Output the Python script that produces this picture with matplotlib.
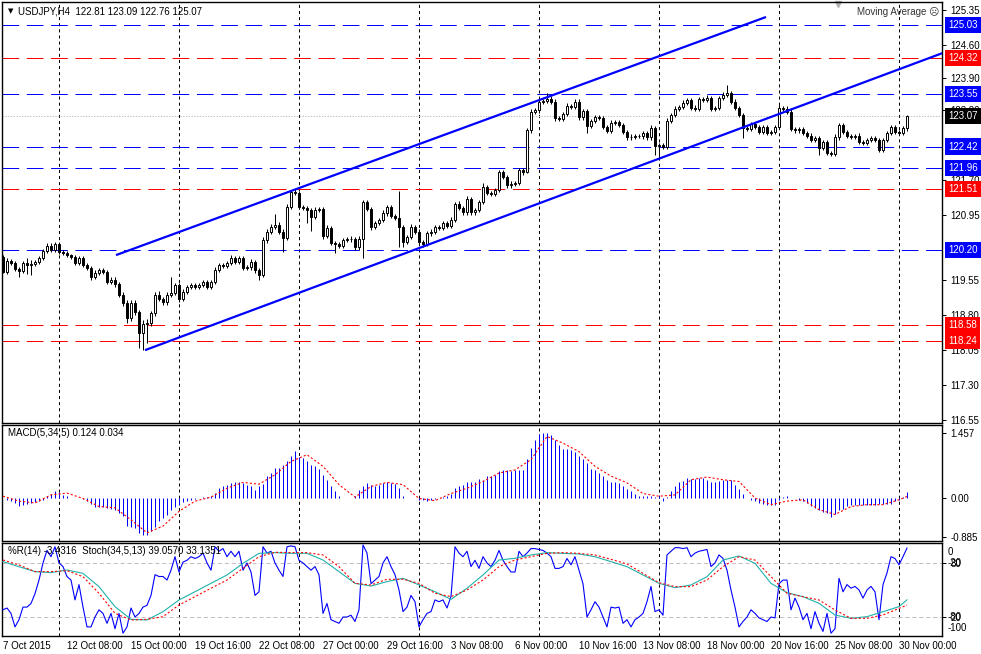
import numpy as np
import matplotlib
matplotlib.use('Agg')
import matplotlib.pyplot as plt
import matplotlib.transforms as mtransforms

plt.rcParams['font.family'] = ['Liberation Sans', 'DejaVu Sans']
plt.rcParams['font.size'] = 7
plt.rcParams['lines.scale_dashes'] = False
FS = 7

# USDJPY H4 candles, 7 Oct 16:00 .. 30 Nov 08:00 (open of a bar = previous close)
first_open = 120.05
closes = [
    119.73, 119.96, 119.92, 119.79, 119.75, 119.92, 119.88, 119.90, 119.94, 120.03,
    120.18, 120.29, 120.20, 120.33, 120.16, 120.14, 120.09, 120.05, 119.92, 120.03,
    119.88, 119.81, 119.62, 119.71, 119.77, 119.73, 119.51, 119.56, 119.47, 119.24,
    119.06, 118.74, 119.06, 118.87, 118.42, 118.61, 118.63, 118.85, 119.24, 119.15,
    119.08, 119.24, 119.28, 119.45, 119.15, 119.30, 119.41, 119.45, 119.41, 119.45,
    119.51, 119.41, 119.51, 119.77, 119.88, 119.86, 119.92, 120.03, 119.94, 120.03,
    119.81, 119.83, 119.94, 119.77, 119.66, 120.41, 120.59, 120.69, 120.74, 120.59,
    120.46, 121.12, 121.44, 121.42, 121.12, 121.10, 121.06, 120.91, 121.06, 121.08,
    120.50, 120.67, 120.35, 120.33, 120.29, 120.41, 120.44, 120.43, 120.26, 120.44,
    121.23, 121.08, 120.69, 120.78, 120.84, 120.99, 121.12, 120.93, 120.89, 120.69,
    120.37, 120.48, 120.69, 120.59, 120.37, 120.33, 120.56, 120.59, 120.69, 120.67,
    120.78, 120.72, 120.84, 121.19, 121.10, 121.01, 121.29, 121.01, 121.06, 121.23,
    121.55, 121.42, 121.40, 121.49, 121.87, 121.77, 121.59, 121.62, 121.64, 121.92,
    121.87, 122.77, 123.16, 123.20, 123.38, 123.40, 123.44, 123.38, 123.03, 123.01,
    123.12, 123.29, 123.27, 123.38, 123.05, 123.18, 122.86, 122.97, 123.05, 123.03,
    122.84, 122.75, 122.93, 122.95, 122.88, 122.73, 122.62, 122.63, 122.65, 122.64,
    122.71, 122.62, 122.82, 122.43, 122.45, 122.41, 122.97, 123.10, 123.23, 123.27,
    123.36, 123.42, 123.25, 123.23, 123.44, 123.42, 123.46, 123.23, 123.25, 123.46,
    123.53, 123.57, 123.38, 123.25, 123.10, 122.82, 122.80, 122.90, 122.84, 122.73,
    122.84, 122.71, 122.73, 122.84, 123.25, 123.23, 123.16, 122.80, 122.77, 122.80,
    122.71, 122.65, 122.56, 122.60, 122.39, 122.52, 122.28, 122.26, 122.62, 122.88,
    122.73, 122.65, 122.62, 122.65, 122.52, 122.50, 122.56, 122.60, 122.56, 122.35,
    122.56, 122.71, 122.84, 122.73, 122.71, 122.81, 123.07,
]
# wick lengths above / below the body
wick_up = [
    0.05, 0.06, 0.04, 0.05, 0.04, 0.05, 0.10, 0.08, 0.05, 0.04,
    0.04, 0.05, 0.05, 0.04, 0.04, 0.03, 0.04, 0.03, 0.05, 0.04,
    0.05, 0.04, 0.04, 0.05, 0.04, 0.05, 0.04, 0.05, 0.06, 0.04,
    0.05, 0.06, 0.07, 0.06, 0.05, 0.08, 0.08, 0.05, 0.06, 0.07,
    0.05, 0.06, 0.34, 0.05, 0.05, 0.06, 0.04, 0.05, 0.04, 0.05,
    0.05, 0.04, 0.05, 0.06, 0.05, 0.04, 0.05, 0.06, 0.05, 0.04,
    0.05, 0.05, 0.06, 0.04, 0.05, 0.06, 0.05, 0.06, 0.23, 0.05,
    0.05, 0.06, 0.05, 0.06, 0.05, 0.04, 0.05, 0.05, 0.06, 0.05,
    0.05, 0.06, 0.05, 0.05, 0.05, 0.05, 0.04, 0.05, 0.05, 0.05,
    0.05, 0.05, 0.05, 0.05, 0.05, 0.06, 0.05, 0.05, 0.05, 0.58,
    0.05, 0.05, 0.06, 0.05, 0.05, 0.05, 0.05, 0.06, 0.05, 0.05,
    0.05, 0.05, 0.06, 0.05, 0.06, 0.05, 0.06, 0.05, 0.05, 0.05,
    0.08, 0.05, 0.05, 0.05, 0.05, 0.05, 0.05, 0.06, 0.05, 0.05,
    0.05, 0.05, 0.06, 0.05, 0.05, 0.05, 0.13, 0.06, 0.05, 0.05,
    0.05, 0.06, 0.05, 0.06, 0.05, 0.05, 0.05, 0.05, 0.05, 0.05,
    0.05, 0.05, 0.06, 0.05, 0.05, 0.05, 0.05, 0.05, 0.04, 0.04,
    0.05, 0.05, 0.06, 0.05, 0.05, 0.05, 0.06, 0.05, 0.06, 0.05,
    0.05, 0.05, 0.05, 0.06, 0.05, 0.05, 0.06, 0.05, 0.05, 0.05,
    0.05, 0.17, 0.05, 0.05, 0.05, 0.05, 0.05, 0.05, 0.05, 0.05,
    0.05, 0.05, 0.05, 0.05, 0.06, 0.05, 0.05, 0.09, 0.05, 0.05,
    0.05, 0.05, 0.05, 0.05, 0.05, 0.05, 0.05, 0.05, 0.06, 0.05,
    0.05, 0.05, 0.04, 0.04, 0.05, 0.04, 0.05, 0.05, 0.05, 0.05,
    0.05, 0.05, 0.05, 0.05, 0.05, 0.05, 0.02,
]
wick_dn = [
    0.03, 0.05, 0.05, 0.05, 0.13, 0.05, 0.20, 0.22, 0.05, 0.05,
    0.05, 0.05, 0.05, 0.05, 0.05, 0.04, 0.04, 0.04, 0.05, 0.05,
    0.05, 0.05, 0.06, 0.05, 0.05, 0.05, 0.05, 0.05, 0.06, 0.05,
    0.06, 0.10, 0.06, 0.06, 0.32, 0.37, 0.40, 0.06, 0.06, 0.05,
    0.05, 0.06, 0.05, 0.05, 0.06, 0.05, 0.05, 0.05, 0.04, 0.05,
    0.05, 0.05, 0.05, 0.05, 0.05, 0.04, 0.05, 0.05, 0.05, 0.05,
    0.05, 0.05, 0.05, 0.06, 0.10, 0.05, 0.05, 0.05, 0.05, 0.05,
    0.30, 0.05, 0.05, 0.05, 0.05, 0.05, 0.28, 0.30, 0.05, 0.05,
    0.06, 0.05, 0.05, 0.19, 0.05, 0.05, 0.04, 0.05, 0.06, 0.05,
    0.41, 0.05, 0.06, 0.05, 0.05, 0.05, 0.05, 0.05, 0.05, 0.43,
    0.10, 0.05, 0.05, 0.05, 0.06, 0.06, 0.05, 0.05, 0.05, 0.05,
    0.05, 0.05, 0.05, 0.05, 0.05, 0.05, 0.05, 0.06, 0.05, 0.05,
    0.05, 0.05, 0.05, 0.05, 0.05, 0.05, 0.05, 0.05, 0.05, 0.05,
    0.05, 0.02, 0.05, 0.05, 0.05, 0.05, 0.05, 0.05, 0.06, 0.05,
    0.05, 0.05, 0.05, 0.05, 0.05, 0.05, 0.15, 0.05, 0.05, 0.05,
    0.05, 0.05, 0.05, 0.05, 0.05, 0.05, 0.05, 0.05, 0.04, 0.04,
    0.05, 0.05, 0.05, 0.20, 0.25, 0.05, 0.05, 0.05, 0.05, 0.05,
    0.05, 0.05, 0.05, 0.05, 0.05, 0.05, 0.05, 0.05, 0.05, 0.05,
    0.05, 0.05, 0.05, 0.05, 0.05, 0.22, 0.05, 0.05, 0.05, 0.05,
    0.05, 0.05, 0.05, 0.05, 0.05, 0.05, 0.05, 0.05, 0.05, 0.05,
    0.05, 0.05, 0.05, 0.05, 0.15, 0.05, 0.04, 0.05, 0.05, 0.05,
    0.05, 0.05, 0.04, 0.04, 0.05, 0.04, 0.05, 0.05, 0.05, 0.05,
    0.05, 0.05, 0.05, 0.05, 0.05, 0.05, 0.05,
]

blue_levels = [125.03, 123.55, 122.42, 121.96, 120.20]
red_levels = [124.32, 121.51, 118.58, 118.24]
bid = 123.07
# scale labels that stay readable (122.45 and 120.25 sit under the level boxes)
price_ticks = [125.35, 124.60, 123.90, 123.20, 121.70, 120.95,
               119.55, 118.80, 118.05, 117.30, 116.55]

# channel lines: (bar index, price) anchors
chan_upper = [(28.25, 120.09), (190.75, 125.20)]
chan_lower = [(35.5, 118.05), (235.0, 124.43)]

week_sep = [14, 44, 74, 104, 134, 164, 194, 224]
time_idx = [0, 16, 32, 48, 64, 80, 96, 112, 128, 144, 160, 176, 192, 208, 224]
time_lbl = ['7 Oct 2015', '12 Oct 08:00', '15 Oct 00:00', '19 Oct 16:00',
            '22 Oct 08:00', '27 Oct 00:00', '29 Oct 16:00', '3 Nov 08:00',
            '6 Nov 00:00', '10 Nov 16:00', '13 Nov 08:00', '18 Nov 00:00',
            '20 Nov 16:00', '25 Nov 08:00', '30 Nov 00:00']

# MACD(5,34,5) histogram, every bar
macd_hist = [
    0.00, -0.05, -0.07, -0.11, -0.17, -0.15, -0.13, -0.11, -0.10, -0.07,
    -0.04, 0.05, 0.10, 0.15, 0.13, 0.07, 0.04, 0.01, -0.01, -0.01,
    -0.02, -0.06, -0.13, -0.20, -0.20, -0.20, -0.22, -0.25, -0.28, -0.34,
    -0.41, -0.63, -0.65, -0.67, -0.78, -0.82, -0.82, -0.75, -0.65, -0.52,
    -0.45, -0.37, -0.28, -0.20, -0.15, -0.10, -0.07, -0.04, -0.02, -0.01,
    0.02, 0.02, 0.04, 0.11, 0.22, 0.26, 0.30, 0.34, 0.36, 0.36,
    0.34, 0.30, 0.26, 0.19, 0.26, 0.31, 0.49, 0.56, 0.67, 0.67,
    0.75, 0.82, 0.95, 1.06, 0.93, 0.90, 0.82, 0.75, 0.71, 0.65,
    0.52, 0.41, 0.26, 0.15, 0.04, 0.01, 0.01, -0.01, 0.04, 0.19,
    0.28, 0.34, 0.30, 0.26, 0.30, 0.34, 0.35, 0.34, 0.32, 0.22,
    0.04, -0.01, -0.01, 0.00, -0.04, -0.04, -0.06, -0.04, -0.02, -0.01,
    0.02, 0.04, 0.10, 0.22, 0.26, 0.30, 0.37, 0.35, 0.37, 0.43,
    0.41, 0.50, 0.49, 0.52, 0.60, 0.63, 0.63, 0.60, 0.63, 0.63,
    0.63, 0.87, 1.12, 1.31, 1.44, 1.46, 1.46, 1.42, 1.31, 1.19,
    1.10, 1.10, 1.07, 1.04, 0.95, 0.87, 0.78, 0.65, 0.62, 0.57,
    0.49, 0.40, 0.37, 0.37, 0.34, 0.28, 0.20, 0.15, 0.10, 0.05,
    0.04, 0.05, 0.04, 0.02, 0.04, -0.07, 0.02, 0.15, 0.28, 0.35,
    0.39, 0.45, 0.43, 0.43, 0.45, 0.45, 0.41, 0.37, 0.37, 0.39,
    0.41, 0.40, 0.41, 0.30, 0.20, 0.10, 0.00, -0.04, -0.07, -0.11,
    -0.13, -0.15, -0.15, -0.15, -0.04, 0.02, 0.04, 0.00, -0.01, -0.04,
    -0.07, -0.11, -0.17, -0.22, -0.26, -0.32, -0.34, -0.43, -0.35, -0.28,
    -0.25, -0.19, -0.15, -0.15, -0.15, -0.15, -0.15, -0.15, -0.15, -0.14,
    -0.14, -0.13, -0.13, -0.07, -0.04, 0.02, 0.124,
]
# smooth lines read every 4th bar
smooth_idx = list(range(0, 225, 4)) + [226]
macd_signal = [
    0.04, -0.07, -0.11, 0.07, 0.11, -0.01, -0.19, -0.22, -0.49, -0.78,
    -0.63, -0.30, -0.07, 0.02, 0.22, 0.35, 0.31, 0.52, 0.82, 0.97,
    0.71, 0.30, 0.02, 0.26, 0.35, 0.30, -0.01, -0.06, 0.10, 0.22,
    0.37, 0.56, 0.63, 0.86, 1.38, 1.23, 1.04, 0.71, 0.49, 0.34,
    0.10, 0.04, 0.07, 0.41, 0.47, 0.41, 0.37, 0.00, -0.15, -0.07,
    -0.04, -0.26, -0.37, -0.19, -0.15, -0.15, -0.04, 0.034,
]

# Williams %R(14), every bar
wpr = [
    -72, -70, -76, -91, -83, -69, -69, -65, -54, -39,
    -20, -6, -13, -2, -20, -24, -35, -39, -61, -44,
    -69, -91, -91, -80, -72, -76, -87, -76, -93, -76,
    -98, -91, -70, -80, -76, -69, -67, -56, -33, -35,
    -35, -39, -28, -13, -30, -19, -17, -13, -15, -13,
    -9, -20, -28, -2, -7, -4, -13, -7, -13, -7,
    -28, -20, -30, -56, -52, -2, -9, -7, -20, -28,
    -35, -2, -1, -2, -17, -20, -24, -28, -24, -33,
    -76, -65, -83, -85, -87, -80, -80, -78, -85, -72,
    0, -9, -43, -39, -35, -20, -13, -24, -33, -50,
    -74, -69, -56, -63, -91, -83, -76, -74, -61, -63,
    -61, -70, -57, -2, -9, -13, -7, -24, -17, -26,
    -13, -20, -24, -17, -6, -17, -24, -30, -30, -7,
    -13, -9, -4, -4, -5, -6, -9, -13, -26, -26,
    -24, -15, -22, -13, -28, -43, -80, -72, -63, -69,
    -80, -91, -69, -70, -69, -87, -83, -91, -83, -80,
    -76, -63, -46, -74, -72, -78, -11, -7, -3, -3,
    -4, -3, -13, -9, -7, -6, -5, -24, -20, -11,
    -15, -28, -50, -69, -91, -85, -80, -72, -76, -81,
    -83, -85, -80, -81, -43, -39, -39, -72, -59, -69,
    -83, -76, -93, -74, -87, -96, -76, -98, -93, -37,
    -52, -44, -48, -46, -50, -59, -50, -46, -52, -83,
    -44, -31, -13, -15, -22, -13, -3.43,
]
stoch_main = [
    81.5, 75.9, 70.4, 69.3, 72.2, 68.5, 53.7, 31.5, 17.4, 16.7,
    25.9, 38.9, 48.1, 57.4, 66.7, 79.6, 90.7, 91.5, 90.7, 90.7,
    83.3, 70.4, 57.4, 54.4, 59.3, 63.0, 55.6, 48.1, 39.6, 51.9,
    66.7, 83.3, 85.2, 88.9, 91.5, 90.7, 90.0, 87.0, 81.5, 75.9,
    66.7, 57.4, 52.6, 55.6, 64.8, 83.3, 87.8, 79.6, 57.4, 47.0,
    42.6, 35.2, 22.2, 18.5, 20.4, 25.9, 31.5, 39.06,
]
stoch_signal = [
    83.3, 77.8, 70.4, 70.4, 71.5, 64.8, 46.3, 24.1, 16.7, 17.4,
    20.4, 33.3, 42.6, 51.9, 61.1, 74.1, 87.0, 91.9, 91.5, 91.5,
    88.9, 75.9, 57.4, 55.6, 61.9, 61.9, 57.4, 46.3, 42.6, 50.0,
    61.1, 75.9, 83.3, 87.0, 90.7, 91.5, 90.7, 88.9, 84.1, 78.9,
    68.5, 58.1, 53.7, 53.7, 61.1, 75.9, 87.0, 83.3, 64.8, 46.3,
    42.6, 38.9, 27.8, 18.5, 18.5, 22.2, 29.6, 33.14,
]

W, H = 981, 654
BLUE = '#0000ff'
RED = '#ff0000'
PX = 0.72  # one pixel in points at 100 dpi

fig = plt.figure(figsize=(W / 100, H / 100), dpi=100)
fig.patch.set_facecolor('white')


def frame(top, bottom):
    return [2 / W, 1 - bottom / H, 940 / W, (bottom - top) / H]


ax1 = fig.add_axes(frame(2, 423))
ax2 = fig.add_axes(frame(425, 541))
ax3 = fig.add_axes(frame(543, 636))

for ax in (ax1, ax2, ax3):
    ax.set_xlim(-0.25, 234.75)
    ax.set_xticks([])
    ax.yaxis.tick_right()
    ax.tick_params(axis='y', length=3, width=PX, pad=3, labelsize=FS)
    for s in ax.spines.values():
        s.set_linewidth(1.0)
        s.set_color('black')
    for i in week_sep:
        ax.axvline(i, color='black', lw=PX, dashes=(2.2, 2.2), zorder=1, snap=True)

# ---- main price window
ax1.set_ylim(116.487, 125.522)
closes = np.array(closes)
opens = np.r_[first_open, closes[:-1]]
highs = np.maximum(opens, closes) + np.array(wick_up)
lows = np.minimum(opens, closes) - np.array(wick_dn)
x = np.arange(len(closes))

for lv in blue_levels:
    ax1.axhline(lv, color=BLUE, lw=PX, dashes=(12, 5.5), zorder=2, snap=True)
for lv in red_levels:
    ax1.axhline(lv, color=RED, lw=PX, dashes=(12, 5.5), zorder=2, snap=True)
ax1.axhline(bid, color='#c0c0c0', lw=PX, dashes=(1, 1), zorder=2, snap=True)

ax1.vlines(x, lows, highs, color='black', lw=PX, zorder=3, snap=True)
up = closes >= opens
ax1.bar(x[up], (closes - opens)[up], bottom=opens[up], width=0.6,
        facecolor='white', edgecolor='black', lw=0.7, zorder=4)
ax1.bar(x[~up], (opens - closes)[~up], bottom=closes[~up], width=0.6,
        facecolor='black', edgecolor='black', lw=0.7, zorder=4)

for line in (chan_upper, chan_lower):
    xs, ys = zip(*line)
    ax1.plot(xs, ys, color=BLUE, lw=1.6, zorder=5, solid_capstyle='butt')

ax1.set_yticks(price_ticks)
ax1.set_yticklabels([f'{v:.2f}' for v in price_ticks])

tr1 = mtransforms.blended_transform_factory(ax1.transAxes, ax1.transData)
boxes = [(v, BLUE) for v in blue_levels] + [(v, RED) for v in red_levels] + [(bid, 'black')]
for v, c in boxes:
    ax1.text(1 + 6 / 940, v, f'{v:.2f}', transform=tr1, ha='left', va='center',
             color='white', fontsize=FS, clip_on=False, zorder=10,
             bbox=dict(boxstyle='square,pad=0.32', fc=c, ec='none'))

ax1.text(6 / 940, 1 - 9 / 421, '\u25bc', transform=ax1.transAxes, fontsize=5,
         ha='left', va='center', family=['DejaVu Sans'])
ax1.text(16 / 940, 1 - 9 / 421, 'USDJPY,H4  122.81 123.09 122.76 125.07',
         transform=ax1.transAxes, ha='left', va='center', fontsize=FS)
ax1.text(855 / 940, 1 - 10 / 421, 'Moving Average \u2639', transform=ax1.transAxes,
         ha='left', va='center', fontsize=FS, color='#333333')
ax1.plot([836 / 940], [1 - 2 / 421], marker='v', ms=4, color='#b0b0b0',
         transform=ax1.transAxes, clip_on=False)

# ---- MACD window
ax2.set_ylim(-0.964, 1.637)
ax2.vlines(x, 0, macd_hist, color=BLUE, lw=PX, zorder=3, snap=True)
ax2.plot(smooth_idx, macd_signal, color=RED, lw=0.8, dashes=(1.5, 1.5), zorder=4)
ax2.set_yticks([1.457, 0.0, -0.885])
ax2.set_yticklabels(['1.457', '0.00', '-0.885'])
ax2.text(6 / 940, 1 - 8 / 116, 'MACD(5,34,5) 0.124 0.034', transform=ax2.transAxes,
         ha='left', va='center', fontsize=FS)

# ---- %R + Stochastic window (shared 0..100 scale, %R shifted by 100)
ax3.set_ylim(-1.1, 102.2)
ax3.axhline(80, color='#c8bcc8', lw=PX, dashes=(3, 2), zorder=1, snap=True)
ax3.axhline(20, color='#c8bcc8', lw=PX, dashes=(3, 2), zorder=1, snap=True)
ax3.plot(x, np.array(wpr) + 100, color=BLUE, lw=0.8, zorder=3)
ax3.plot(smooth_idx, stoch_main, color='#20b2aa', lw=0.8, zorder=4)
ax3.plot(smooth_idx, stoch_signal, color=RED, lw=0.8, dashes=(1.5, 1.5), zorder=4)
ax3.set_yticks([80, 20])
ax3.set_yticklabels(['80', '20'])
tr3 = mtransforms.blended_transform_factory(ax3.transAxes, ax3.transData)
lx = 1 + 6 / 940
for lbl, v in [('-20', 80), ('-80', 20), ('0', 92.2), ('-100', 7.8)]:
    ax3.text(lx, v, lbl, transform=tr3, ha='left', va='center', fontsize=FS,
             clip_on=False)
ax3.text(6 / 940, 1 - 8 / 93, '%R(14) -3.4316  Stoch(34,5,13) 39.0570 33.1351',
         transform=ax3.transAxes, ha='left', va='center', fontsize=FS, zorder=6)

trx = mtransforms.blended_transform_factory(ax3.transData, ax3.transAxes)
for i, t in zip(time_idx, time_lbl):
    ax3.text(i, -10 / 93, t, transform=trx, ha='left', va='center', fontsize=FS,
             clip_on=False)

fig.savefig('out.png', dpi=100, facecolor='white')
